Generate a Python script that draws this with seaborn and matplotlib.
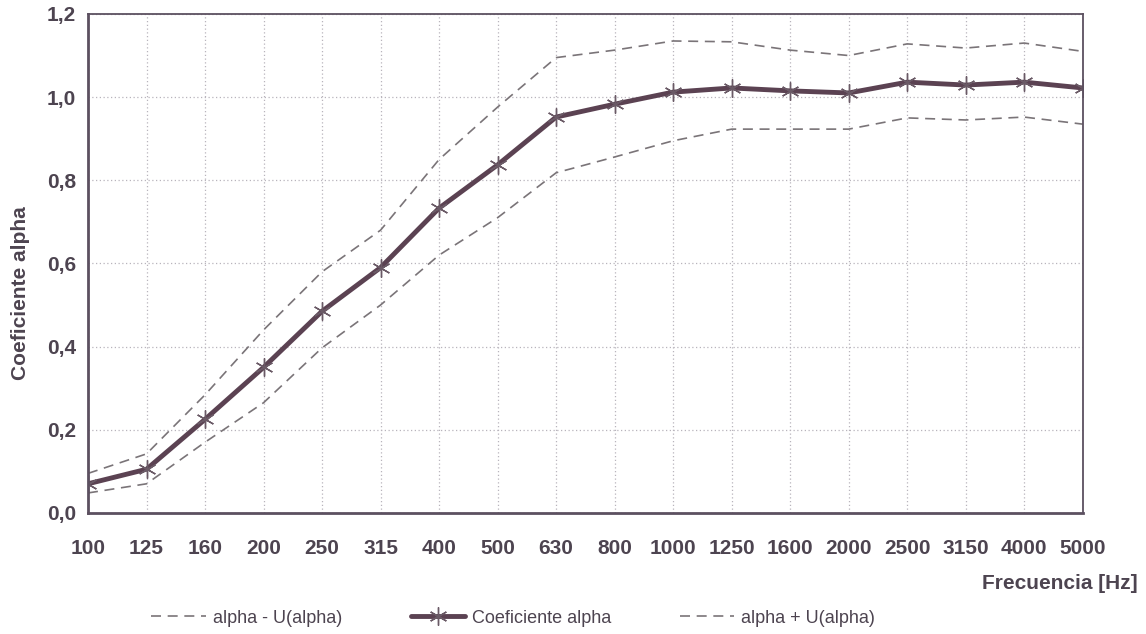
import pandas as pd
import seaborn as sns
import matplotlib.pyplot as plt
import numpy as np

frecuencias = ["100", "125", "160", "200", "250", "315", "400", "500", "630", "800",
               "1000", "1250", "1600", "2000", "2500", "3150", "4000", "5000"]
alpha = [0.07, 0.105, 0.225, 0.35, 0.485, 0.59, 0.733, 0.837, 0.952, 0.983,
         1.012, 1.022, 1.015, 1.01, 1.036, 1.029, 1.036, 1.022]
alpha_mas_u = [0.095, 0.142, 0.284, 0.44, 0.58, 0.68, 0.85, 0.976, 1.095, 1.113,
               1.135, 1.133, 1.113, 1.10, 1.128, 1.118, 1.13, 1.11]
alpha_menos_u = [0.048, 0.07, 0.17, 0.265, 0.397, 0.50, 0.62, 0.71, 0.818, 0.856,
                 0.895, 0.923, 0.923, 0.923, 0.95, 0.945, 0.952, 0.935]

data = pd.DataFrame({"idx": np.arange(len(frecuencias)),
                     "alpha": alpha, "mas": alpha_mas_u, "menos": alpha_menos_u})

sns.set_style("white")
plt.rcParams['font.family'] = ['Liberation Sans', 'DejaVu Sans']
txt = '#4d4450'
linea = '#5b4252'
gris = '#7a7478'

fig = plt.figure(figsize=(11.46, 6.34), dpi=100)
ax = fig.add_axes([0.0768, 0.191, 0.868, 0.787])

sns.lineplot(data=data, x="idx", y="menos", ax=ax, color=gris, linestyle=(0, (6, 4)),
             linewidth=1.2, label='alpha - U(alpha)')
sns.lineplot(data=data, x="idx", y="alpha", ax=ax, color=linea, linewidth=3.5,
             marker=(6, 2, 0), markersize=13, markeredgewidth=1.0,
             markeredgecolor='#6a5a66', label='Coeficiente alpha')
sns.lineplot(data=data, x="idx", y="mas", ax=ax, color=gris, linestyle=(0, (6, 4)),
             linewidth=1.2, label='alpha + U(alpha)')

ax.set_xlim(0, len(frecuencias) - 1)
ax.set_ylim(0, 1.2)
ax.set_xticks(np.arange(len(frecuencias)))
ax.set_xticklabels(frecuencias)
yt = np.arange(0, 1.21, 0.2)
ax.set_yticks(yt)
ax.set_yticklabels([f"{v:.1f}".replace('.', ',') for v in yt])
ax.tick_params(axis='both', labelsize=15, colors=txt, length=5, width=1.2, direction='out')
for lab in ax.get_xticklabels() + ax.get_yticklabels():
    lab.set_fontweight('bold')
ax.tick_params(axis='x', pad=14)

ax.grid(True, color='#b8b4bc', linestyle=(0, (1, 2)), linewidth=0.9)
for s in ax.spines.values():
    s.set_color('#5c5060')
    s.set_linewidth(1.3)
ax.spines['left'].set_linewidth(2)
ax.spines['bottom'].set_linewidth(2)

ax.set_xlabel("")
ax.set_ylabel("Coeficiente alpha", fontsize=15, fontweight='bold', color=txt)
ax.yaxis.set_label_coords(-0.058, 0.44)
fig.text(0.993, 0.08, "Frecuencia [Hz]", ha='right', va='center', fontsize=15,
         fontweight='bold', color=txt)

ax.get_legend().remove()
h, l = ax.get_legend_handles_labels()
leg = fig.legend(h, l, loc='center left', bbox_to_anchor=(0.118, 0.025), ncol=3,
                 frameon=False, fontsize=13, handlelength=3.0, handletextpad=0.4,
                 columnspacing=3.8)
for t in leg.get_texts():
    t.set_color(txt)

plt.savefig("out.png", dpi=100)
